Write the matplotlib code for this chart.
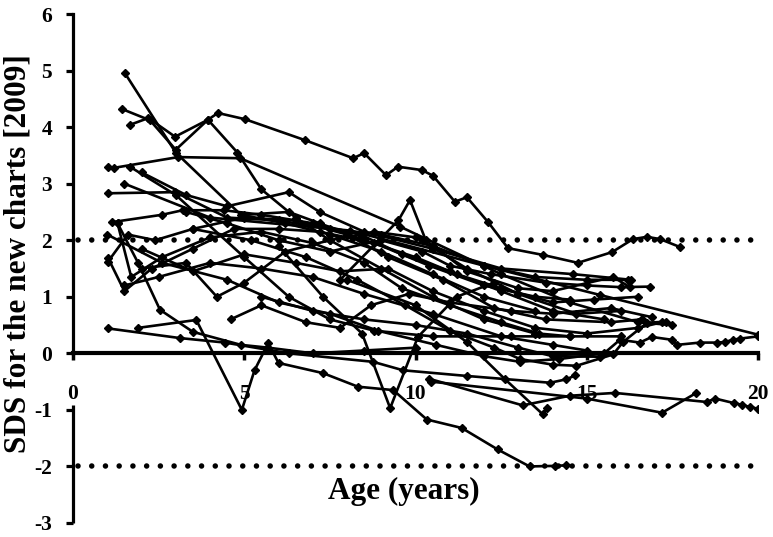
import matplotlib
matplotlib.use("Agg")
import matplotlib.pyplot as plt

# ---- data: each patient's (age, SDS) trajectory ----
age_01 = [1.52, 3.0, 4.9, 6.2, 7.5, 9.0, 10.5, 12.0, 13.5]
sds_01 = [4.95, 3.55, 2.45, 2.3, 2.1, 1.8, 1.4, 1.0, 0.75]
age_02 = [1.66, 2.2, 2.98, 3.94, 4.23, 5.02, 6.77, 8.18, 8.5, 9.14, 9.49, 10.19, 10.51, 11.15, 11.5, 12.12, 12.7, 13.72, 14.74, 15.74, 16.35, 16.76, 17.14, 17.72]
sds_02 = [4.04, 4.16, 3.83, 4.13, 4.25, 4.14, 3.77, 3.45, 3.54, 3.15, 3.3, 3.24, 3.14, 2.68, 2.76, 2.32, 1.86, 1.74, 1.6, 1.79, 2.02, 2.06, 2.02, 1.88]
age_03 = [1.43, 2.25, 3.0, 3.94, 4.8, 5.5, 6.5, 7.5, 9.0, 10.5, 12.0, 13.5]
sds_03 = [4.32, 4.12, 3.6, 4.13, 3.55, 2.9, 2.4, 2.0, 1.5, 1.0, 0.6, 0.35]
age_04 = [1.02, 1.2, 3.07, 4.88, 9.55, 12.5, 14.5, 16.5, 17.5]
sds_04 = [3.3, 3.28, 3.47, 3.45, 2.24, 1.4, 0.9, 0.55, 0.5]
age_05 = [1.5, 4.0, 8.1, 12.0, 15.4, 20.0]
sds_05 = [3.0, 2.4, 2.17, 1.55, 1.03, 0.33]
age_06 = [1.02, 2.98, 4.5, 6.0, 7.5, 9.0, 10.5, 12.0, 13.5, 15.0, 16.2]
sds_06 = [2.83, 2.85, 2.4, 2.35, 2.2, 2.1, 1.9, 1.55, 1.35, 1.3, 1.3]
age_07 = [1.14, 2.6, 3.2, 4.4, 5.5, 7.0, 8.4, 9.6, 11.0, 12.5, 14.0, 15.5]
sds_07 = [2.32, 2.45, 2.53, 2.53, 2.45, 2.3, 2.1, 1.75, 1.45, 1.1, 0.75, 0.6]
age_08 = [1.02, 1.5, 2.3, 3.5, 4.7, 6.0, 7.2, 8.8, 10.4, 12.0, 13.5, 14.5]
sds_08 = [1.69, 1.1, 1.5, 1.85, 2.2, 2.2, 2.15, 1.95, 1.55, 1.2, 1.0, 0.95]
age_09 = [1.02, 1.6, 2.4, 3.5, 5.0, 6.5, 8.0, 9.2, 10.8, 12.3, 13.8, 15.7, 16.6]
sds_09 = [1.62, 2.1, 2.0, 2.2, 2.4, 2.35, 2.1, 1.7, 1.3, 0.8, 0.6, 0.55, 0.6]
age_10 = [1.3, 1.7, 2.6, 4.0, 5.5, 7.0, 8.5, 9.6, 11.0, 12.5, 13.6, 14.5]
sds_10 = [2.3, 1.35, 1.7, 2.05, 2.15, 1.95, 1.6, 1.15, 0.85, 0.55, 0.35, 0.3]
age_11 = [2.0, 3.3, 4.2, 5.0, 6.2, 7.5, 8.8, 10.0, 11.5, 13.0, 14.7, 16.0]
sds_11 = [1.5, 1.6, 1.0, 1.25, 1.8, 2.0, 2.15, 2.05, 1.5, 1.05, 0.7, 0.75]
age_12 = [1.5, 2.5, 4.0, 5.5, 7.0, 8.5, 10.5, 12.5, 14.0, 15.0]
sds_12 = [1.2, 1.35, 1.6, 1.5, 1.35, 1.05, 0.7, 0.3, 0.15, 0.05]
age_13 = [2.0, 3.5, 5.0, 6.5, 7.8, 9.2, 10.5, 12.0, 13.5, 15.0, 16.5, 17.2]
sds_13 = [1.85, 1.45, 1.75, 1.6, 1.45, 1.5, 1.1, 0.75, 0.45, 0.35, 0.45, 0.55]
age_14 = [4.6, 5.5, 6.8, 7.8, 8.7, 9.8, 11.0, 12.8, 14.0, 15.7, 16.9]
sds_14 = [0.6, 0.85, 0.55, 0.45, 0.85, 1.05, 0.9, 0.75, 0.7, 0.8, 0.64]
age_15 = [3.3, 4.5, 6.0, 7.5, 9.0, 10.2, 11.0, 12.2, 13.8, 15.0, 16.0, 16.85]
sds_15 = [2.5, 2.3, 2.0, 1.8, 2.0, 1.8, 1.55, 1.4, 1.25, 1.2, 1.17, 1.18]
age_16 = [7.8, 9.5, 9.84, 10.3, 11.5, 13.0, 14.0, 15.77, 16.26]
sds_16 = [1.3, 2.35, 2.71, 2.0, 1.45, 1.15, 1.1, 1.35, 1.17]
age_17 = [3.5, 5.2, 6.8, 8.3, 9.7, 11.0, 12.3, 13.05, 14.0, 14.7, 15.77, 16.06, 16.76, 17.3]
sds_17 = [2.2, 2.0, 1.7, 1.3, 0.85, 0.4, 0.1, -0.1, -0.2, -0.22, -0.02, 0.2, 0.54, 0.56]
age_18 = [5.5, 7.0, 8.5, 10.0, 11.5, 13.0, 14.0, 15.39, 15.97, 16.55, 16.9, 17.48, 17.64, 18.3, 18.8, 19.03, 19.27, 19.47, 20.0]
sds_18 = [1.0, 0.75, 0.6, 0.5, 0.35, 0.1, -0.05, -0.06, 0.24, 0.19, 0.29, 0.24, 0.15, 0.19, 0.19, 0.2, 0.24, 0.26, 0.3]
age_19 = [5.0, 6.3, 7.2, 8.5, 10.0, 11.2, 12.5, 14.0, 15.2, 16.5]
sds_19 = [2.45, 2.5, 2.3, 2.0, 1.7, 1.4, 1.15, 0.9, 0.95, 1.0]
age_20 = [2.0, 3.3, 4.5, 6.3, 7.2, 8.5, 10.5, 12.5, 14.6, 16.3]
sds_20 = [3.2, 2.8, 2.6, 2.85, 2.5, 2.15, 1.85, 1.5, 1.4, 1.3]
age_21 = [1.0, 2.6, 4.5, 6.0, 7.5, 8.9, 10.6, 12.0, 13.05, 14.2, 15.5]
sds_21 = [2.1, 1.6, 1.3, 0.9, 0.7, 0.4, 0.15, -0.05, -0.15, -0.1, 0.0]
age_22 = [1.66, 3.0, 5.0, 6.3, 7.5, 8.8, 10.5, 12.8, 14.5, 16.0]
sds_22 = [3.3, 2.8, 1.7, 1.0, 0.6, 0.4, 0.3, 0.3, 0.3, 0.3]
age_23 = [6.0, 7.3, 8.44, 9.26, 10.07, 11.2, 12.3]
sds_23 = [1.9, 1.0, 0.35, -0.97, 0.29, 1.0, 1.25]
age_24 = [8.0, 10.0, 11.5, 12.6, 13.72, 13.84]
sds_24 = [1.3, 0.85, 0.2, -0.45, -1.08, -0.97]
age_25 = [10.4, 13.13, 14.5, 15.82, 18.5, 18.75, 19.3, 19.53, 19.77, 20.0]
sds_25 = [-0.45, -0.92, -0.75, -0.7, -0.86, -0.8, -0.88, -0.91, -0.95, -0.98]
age_26 = [10.45, 15.0, 17.2, 18.2]
sds_26 = [-0.5, -0.8, -1.05, -0.7]
age_27 = [1.03, 3.12, 4.44, 6.3, 8.76, 9.64, 11.5, 13.93, 14.4, 14.67]
sds_27 = [0.44, 0.27, 0.19, 0.0, -0.15, -0.3, -0.4, -0.52, -0.46, -0.39]
age_28 = [1.9, 3.6, 4.93, 5.3, 5.7, 6.0, 7.3, 8.32, 9.35, 10.33, 11.35, 12.4, 13.33, 14.07, 14.4]
sds_28 = [0.45, 0.59, -1.0, -0.3, 0.18, -0.17, -0.35, -0.59, -0.65, -1.17, -1.32, -1.7, -2.0, -1.99, -1.98]
age_29 = [1.3, 1.9, 2.54, 3.5, 4.9, 5.7, 7.0, 8.5, 10.0]
sds_29 = [2.3, 1.6, 0.77, 0.38, 0.15, 0.1, 0.0, 0.05, 0.1]

series = [
    (age_01, sds_01), (age_02, sds_02), (age_03, sds_03), (age_04, sds_04),
    (age_05, sds_05), (age_06, sds_06), (age_07, sds_07), (age_08, sds_08),
    (age_09, sds_09), (age_10, sds_10), (age_11, sds_11), (age_12, sds_12),
    (age_13, sds_13), (age_14, sds_14), (age_15, sds_15), (age_16, sds_16),
    (age_17, sds_17), (age_18, sds_18), (age_19, sds_19), (age_20, sds_20),
    (age_21, sds_21), (age_22, sds_22), (age_23, sds_23), (age_24, sds_24),
    (age_25, sds_25), (age_26, sds_26), (age_27, sds_27), (age_28, sds_28),
    (age_29, sds_29),
]

x_ticks = [0, 5, 10, 15, 20]
y_ticks = [-3, -2, -1, 0, 1, 2, 3, 4, 5, 6]
ref_lines = [2, -2]

plt.rcParams['font.family'] = ['Liberation Serif', 'DejaVu Serif']
plt.rcParams['font.weight'] = 'bold'

fig = plt.figure(figsize=(7.73, 5.37), dpi=100)
ax = fig.add_axes([73 / 773, 14 / 537, 685 / 773, 509 / 537])
ax.set_xlim(0, 20)
ax.set_ylim(-3, 6)

for r in ref_lines:
    ax.plot([0.15, 19.85 if r < 0 else 20], [r, r], color='black', lw=4.0,
            linestyle=(0, (0.001, 2.47)), dash_capstyle='round', zorder=1)

for a, s in series:
    ax.plot(a, s, color='black', lw=1.9, marker='D', ms=3.6,
            markerfacecolor='black', markeredgecolor='black', zorder=3)

ax.spines['top'].set_visible(False)
ax.spines['right'].set_visible(False)
ax.spines['bottom'].set_position(('data', 0))
ax.spines['bottom'].set_linewidth(3.0)
ax.spines['left'].set_linewidth(2.3)
ax.spines['left'].set_bounds(0, 6)
ax.spines['bottom'].set_zorder(2)
# lower part of the vertical axis (gap left for the "0" label)
ax.plot([0, 0], [-3, -0.92], color='black', lw=2.3, clip_on=False,
        solid_capstyle='butt', zorder=2)

ax.set_xticks(x_ticks)
ax.set_yticks(y_ticks)
ax.set_xticklabels([str(t) for t in x_ticks])
ax.set_yticklabels([str(t) for t in y_ticks])
ax.tick_params(axis='x', direction='out', length=5, width=2.5, pad=17, labelsize=15.5)
ax.tick_params(axis='y', direction='out', length=5, width=2.3, pad=10, labelsize=15.5)
for lab in ax.get_xticklabels() + ax.get_yticklabels():
    lab.set_fontweight('bold')

fig.text(18 / 773, 1 - 254 / 537, 'SDS for the new charts [2009]', rotation=90,
         ha='center', va='center', fontsize=22.5, fontweight='bold')
fig.text(404 / 773, 1 - 491 / 537, 'Age (years)', ha='center', va='center',
         fontsize=22.5, fontweight='bold')

fig.savefig('out.png', dpi=100)
